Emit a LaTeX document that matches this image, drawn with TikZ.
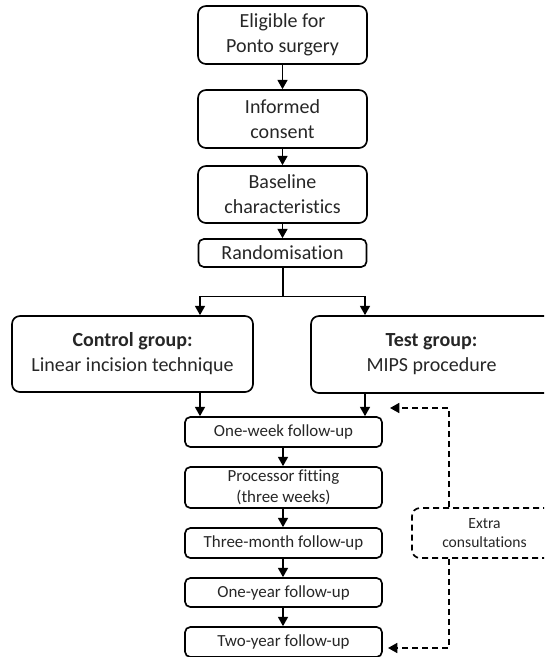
\documentclass[tikz,border=0pt]{standalone}
\usepackage{fontspec}
\setmainfont[RawFeature=-liga]{Carlito}
\usetikzlibrary{arrows.meta}
\begin{document}
\begin{tikzpicture}[x=0.75pt,y=-0.75pt,
  every node/.style={inner sep=0pt, align=center, text=black!85},
  bigbox/.style={draw, line width=1.25pt, rounded corners=6pt, font=\fontsize{15}{18.75}\selectfont},
  smallbox/.style={draw, line width=1.25pt, rounded corners=4pt, minimum width=147.75pt, font=\fontsize{12.7}{15.75}\selectfont},
  extrabox/.style={draw, dashed, dash pattern=on 4.5pt off 3pt, line width=1.25pt, rounded corners=6pt, font=\fontsize{11.7}{14.25}\selectfont},
  arr/.style={line width=1.25pt, -{Triangle[length=7pt,width=7.5pt]}},
  plainline/.style={line width=1.25pt},
  dasharr/.style={arr, dash pattern=on 4.5pt off 3pt}]
\useasboundingbox (0,0) rectangle (544,657);
\clip (0,0) rectangle (544,657);
\node[bigbox, minimum width=126.75pt, minimum height=43.5pt] (elig) at (282.5,35) {Eligible for\\Ponto surgery};
\node[bigbox, minimum width=126.75pt, minimum height=43.5pt] (inf) at (282.5,119) {Informed\\consent};
\node[bigbox, minimum width=126.75pt, minimum height=42.75pt] (base) at (282.5,194.5) {Baseline\\characteristics};
\node[bigbox, rounded corners=4pt, minimum width=126pt, minimum height=21pt] (rand) at (282.5,253) {Randomisation};
\node[bigbox, minimum width=180.75pt, minimum height=57pt] (ctrl) at (132.5,354) {\textbf{Control group:}\\Linear incision technique};
\node[bigbox, minimum width=180.75pt, minimum height=57.75pt] (test) at (431.5,354.5) {\textbf{Test group:}\\MIPS procedure};
\node[smallbox, minimum height=22.5pt] (ow) at (283.5,432) {One-week follow-up};
\node[smallbox, minimum height=30.75pt] (proc) at (283.5,487.5) {Processor fitting\\(three weeks)};
\node[smallbox, minimum height=22.5pt] (tm) at (283.5,543) {Three-month follow-up};
\node[smallbox, minimum height=21.75pt] (oy) at (283.5,592.5) {One-year follow-up};
\node[smallbox, minimum height=22.5pt] (ty) at (283.5,642) {Two-year follow-up};
\node[extrabox, minimum width=108.75pt, minimum height=37.5pt] (extra) at (484.5,533) {Extra\\consultations};
\coordinate (split) at (283,296.5);
\coordinate (cL) at (200,296.5);
\coordinate (cR) at (365,296.5);
\coordinate (ecol) at (449,508);
\coordinate (t1) at (390,408);
\coordinate (t2) at (388,648);
\draw[arr] (elig) -- (inf);
\draw[arr] (inf) -- (base);
\draw[arr] (base) -- (rand);
\draw[plainline] (rand.south -| split) -- (split);
\draw[arr] (split) -| (ctrl.north -| cL);
\draw[arr] (split) -| (test.north -| cR);
\draw[arr] (ctrl.south -| cL) -- (ow.north -| cL);
\draw[arr] (test.south -| cR) -- (ow.north -| cR);
\draw[arr] (ow.south -| split) -- (proc.north -| split);
\draw[arr] (proc.south -| split) -- (tm.north -| split);
\draw[arr] (tm.south -| split) -- (oy.north -| split);
\draw[arr] (oy.south -| split) -- (ty.north -| split);
\draw[dasharr] (extra.north -| ecol) |- (t1);
\draw[dasharr] (extra.south -| ecol) |- (t2);
\end{tikzpicture}
\end{document}
